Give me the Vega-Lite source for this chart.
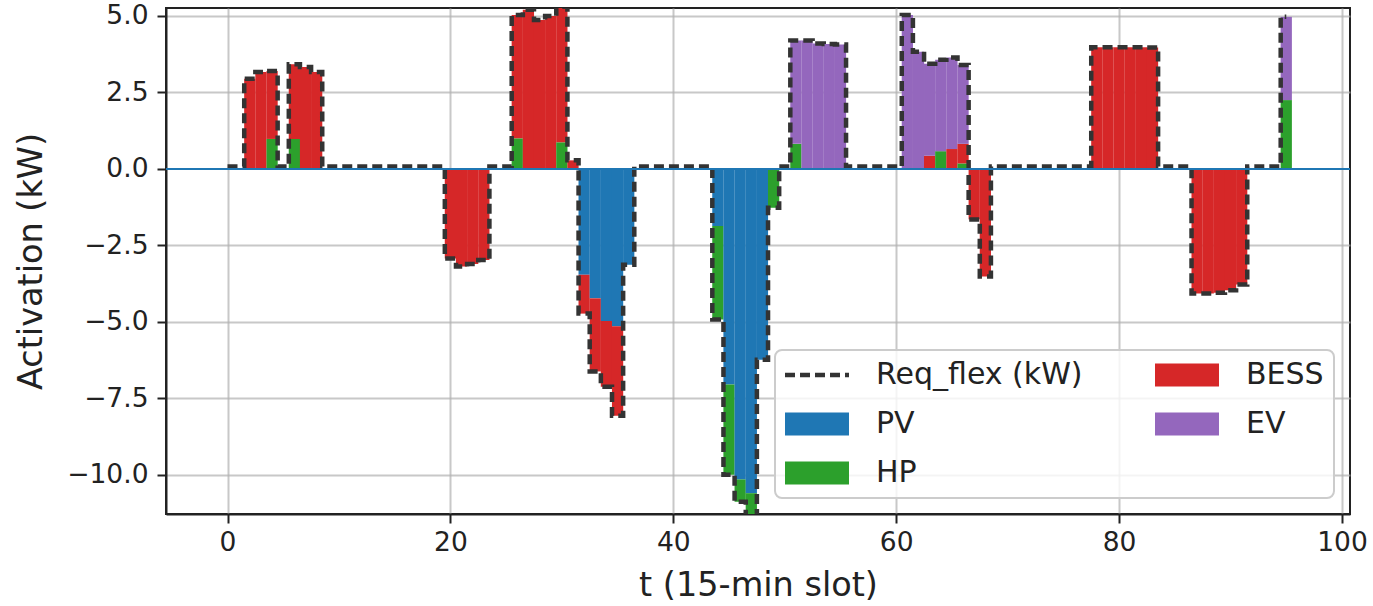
{
  "$schema": "https://vega.github.io/schema/vega-lite/v6.json",
  "width": 1184,
  "height": 506,
  "autosize": {"type": "none"},
  "padding": {"left": 166, "top": 8, "right": 23, "bottom": 92},
  "background": "white",
  "config": {
    "font": "DejaVu Sans",
    "view": {"stroke": "#222222", "strokeWidth": 2},
    "axis": {
      "labelFont": "DejaVu Sans",
      "labelFontSize": 26.5,
      "labelColor": "#222222",
      "titleFont": "DejaVu Sans",
      "titleFontSize": 33.5,
      "titleColor": "#222222",
      "titleFontWeight": "normal",
      "tickColor": "#222222",
      "tickWidth": 2,
      "tickSize": 9,
      "domainColor": "#222222",
      "domainWidth": 2,
      "gridColor": "#b0b0b0",
      "gridOpacity": 0.7,
      "gridWidth": 2,
      "labelFlush": false,
      "labelOverlap": false,
      "labelBound": false,
      "zindex": 1
    },
    "legend": {"symbolStrokeWidth": 0}
  },
  "datasets": {
    "bars": [
      {"t": 2, "src": "BESS", "v": 2.95},
      {"t": 3, "src": "BESS", "v": 3.17},
      {"t": 4, "src": "HP", "v": 0.98},
      {"t": 4, "src": "BESS", "v": 2.22},
      {"t": 6, "src": "HP", "v": 0.98},
      {"t": 6, "src": "BESS", "v": 2.44},
      {"t": 7, "src": "BESS", "v": 3.33},
      {"t": 8, "src": "BESS", "v": 3.17},
      {"t": 20, "src": "BESS", "v": -2.93},
      {"t": 21, "src": "BESS", "v": -3.19},
      {"t": 22, "src": "BESS", "v": -3.11},
      {"t": 23, "src": "BESS", "v": -2.98},
      {"t": 26, "src": "HP", "v": 1.0},
      {"t": 26, "src": "BESS", "v": 4.03},
      {"t": 27, "src": "BESS", "v": 5.2},
      {"t": 28, "src": "BESS", "v": 4.87},
      {"t": 29, "src": "BESS", "v": 5.0},
      {"t": 30, "src": "HP", "v": 0.87},
      {"t": 30, "src": "BESS", "v": 4.43},
      {"t": 31, "src": "BESS", "v": 0.28},
      {"t": 32, "src": "PV", "v": -3.46},
      {"t": 32, "src": "BESS", "v": -1.27},
      {"t": 33, "src": "PV", "v": -4.23},
      {"t": 33, "src": "BESS", "v": -2.39},
      {"t": 34, "src": "PV", "v": -4.97},
      {"t": 34, "src": "BESS", "v": -2.15},
      {"t": 35, "src": "PV", "v": -5.14},
      {"t": 35, "src": "BESS", "v": -2.93},
      {"t": 36, "src": "PV", "v": -3.13},
      {"t": 44, "src": "PV", "v": -1.87},
      {"t": 44, "src": "HP", "v": -3.05},
      {"t": 45, "src": "PV", "v": -7.05},
      {"t": 45, "src": "HP", "v": -2.95},
      {"t": 46, "src": "PV", "v": -10.15},
      {"t": 46, "src": "HP", "v": -0.73},
      {"t": 47, "src": "PV", "v": -10.6},
      {"t": 47, "src": "HP", "v": -1.0},
      {"t": 48, "src": "PV", "v": -6.24},
      {"t": 49, "src": "HP", "v": -1.27},
      {"t": 51, "src": "HP", "v": 0.82},
      {"t": 51, "src": "EV", "v": 3.38},
      {"t": 52, "src": "EV", "v": 4.2},
      {"t": 53, "src": "EV", "v": 4.1},
      {"t": 54, "src": "EV", "v": 4.08},
      {"t": 55, "src": "EV", "v": 4.07},
      {"t": 61, "src": "EV", "v": 5.03},
      {"t": 62, "src": "EV", "v": 3.83},
      {"t": 63, "src": "BESS", "v": 0.43},
      {"t": 63, "src": "EV", "v": 3.01},
      {"t": 64, "src": "HP", "v": 0.58},
      {"t": 64, "src": "EV", "v": 2.99},
      {"t": 65, "src": "BESS", "v": 0.65},
      {"t": 65, "src": "EV", "v": 2.99},
      {"t": 66, "src": "HP", "v": 0.18},
      {"t": 66, "src": "BESS", "v": 0.64},
      {"t": 66, "src": "EV", "v": 2.58},
      {"t": 67, "src": "BESS", "v": -1.65},
      {"t": 68, "src": "BESS", "v": -3.52},
      {"t": 78, "src": "BESS", "v": 3.98},
      {"t": 79, "src": "BESS", "v": 3.98},
      {"t": 80, "src": "BESS", "v": 3.98},
      {"t": 81, "src": "BESS", "v": 3.98},
      {"t": 82, "src": "BESS", "v": 3.98},
      {"t": 83, "src": "BESS", "v": 3.97},
      {"t": 87, "src": "BESS", "v": -4.07},
      {"t": 88, "src": "BESS", "v": -4.07},
      {"t": 89, "src": "BESS", "v": -4.05},
      {"t": 90, "src": "BESS", "v": -3.97},
      {"t": 91, "src": "BESS", "v": -3.78},
      {"t": 95, "src": "HP", "v": 2.25},
      {"t": 95, "src": "EV", "v": 2.72}
    ],
    "req": [
      {"t": 0, "req": 0.08}, {"t": 1, "req": 0.08}, {"t": 2, "req": 2.95}, {"t": 3, "req": 3.17},
      {"t": 4, "req": 3.2}, {"t": 5, "req": 0.08}, {"t": 6, "req": 3.42}, {"t": 7, "req": 3.33},
      {"t": 8, "req": 3.17}, {"t": 9, "req": 0.08}, {"t": 10, "req": 0.08}, {"t": 11, "req": 0.08},
      {"t": 12, "req": 0.08}, {"t": 13, "req": 0.08}, {"t": 14, "req": 0.08}, {"t": 15, "req": 0.08},
      {"t": 16, "req": 0.08}, {"t": 17, "req": 0.08}, {"t": 18, "req": 0.08}, {"t": 19, "req": 0.08},
      {"t": 20, "req": -2.93}, {"t": 21, "req": -3.19}, {"t": 22, "req": -3.11}, {"t": 23, "req": -2.98},
      {"t": 24, "req": 0.08}, {"t": 25, "req": 0.08}, {"t": 26, "req": 5.03}, {"t": 27, "req": 5.2},
      {"t": 28, "req": 4.87}, {"t": 29, "req": 5.0}, {"t": 30, "req": 5.3}, {"t": 31, "req": 0.28},
      {"t": 32, "req": -4.73}, {"t": 33, "req": -6.62}, {"t": 34, "req": -7.12}, {"t": 35, "req": -8.07},
      {"t": 36, "req": -3.13}, {"t": 37, "req": 0.08}, {"t": 38, "req": 0.08}, {"t": 39, "req": 0.08},
      {"t": 40, "req": 0.08}, {"t": 41, "req": 0.08}, {"t": 42, "req": 0.08}, {"t": 43, "req": 0.08},
      {"t": 44, "req": -4.92}, {"t": 45, "req": -10.0}, {"t": 46, "req": -10.88}, {"t": 47, "req": -11.6},
      {"t": 48, "req": -6.24}, {"t": 49, "req": -1.27}, {"t": 50, "req": 0.08}, {"t": 51, "req": 4.2},
      {"t": 52, "req": 4.2}, {"t": 53, "req": 4.1}, {"t": 54, "req": 4.08}, {"t": 55, "req": 4.07},
      {"t": 56, "req": 0.08}, {"t": 57, "req": 0.08}, {"t": 58, "req": 0.08}, {"t": 59, "req": 0.08},
      {"t": 60, "req": 0.08}, {"t": 61, "req": 5.03}, {"t": 62, "req": 3.83}, {"t": 63, "req": 3.44},
      {"t": 64, "req": 3.57}, {"t": 65, "req": 3.64}, {"t": 66, "req": 3.4}, {"t": 67, "req": -1.65},
      {"t": 68, "req": -3.52}, {"t": 69, "req": 0.08}, {"t": 70, "req": 0.08}, {"t": 71, "req": 0.08},
      {"t": 72, "req": 0.08}, {"t": 73, "req": 0.08}, {"t": 74, "req": 0.08}, {"t": 75, "req": 0.08},
      {"t": 76, "req": 0.08}, {"t": 77, "req": 0.08}, {"t": 78, "req": 3.98}, {"t": 79, "req": 3.98},
      {"t": 80, "req": 3.98}, {"t": 81, "req": 3.98}, {"t": 82, "req": 3.98}, {"t": 83, "req": 3.97},
      {"t": 84, "req": 0.08}, {"t": 85, "req": 0.08}, {"t": 86, "req": 0.08}, {"t": 87, "req": -4.07},
      {"t": 88, "req": -4.07}, {"t": 89, "req": -4.05}, {"t": 90, "req": -3.97}, {"t": 91, "req": -3.78},
      {"t": 92, "req": 0.08}, {"t": 93, "req": 0.08}, {"t": 94, "req": 0.08}, {"t": 95, "req": 4.97}
    ]
  },
  "layer": [
    {
      "data": {"name": "bars"},
      "transform": [
        {"calculate": "indexof(['PV','HP','BESS','EV'], datum.src)", "as": "k"}
      ],
      "mark": {"type": "bar", "width": 11.24, "clip": true},
      "encoding": {
        "x": {
          "field": "t",
          "type": "quantitative",
          "title": "t (15-min slot)",
          "scale": {"domain": [-5.07, 100.27], "nice": false, "zero": false},
          "axis": {
            "values": [0, 20, 40, 60, 80, 100],
            "format": "d",
            "labelPadding": 6,
            "titlePadding": 14,
            "title": "t (15-min slot)"
          }
        },
        "y": {
          "field": "v",
          "type": "quantitative",
          "stack": "zero",
          "title": "Activation (kW)",
          "scale": {"domain": [-11.28, 5.26], "nice": false, "zero": false},
          "axis": {
            "values": [-10, -7.5, -5, -2.5, 0, 2.5, 5],
            "format": ".1f",
            "labelPadding": 9,
            "titlePadding": 18,
            "title": "Activation (kW)",
            "gridColor": {"condition": {"test": "datum.value === 0", "value": "transparent"}, "value": "#b0b0b0"}
          }
        },
        "order": {"field": "k", "type": "quantitative"},
        "color": {
          "field": "src",
          "type": "nominal",
          "scale": {
            "domain": ["Req_flex (kW)", "PV", "HP", "BESS", "EV"],
            "range": ["#333333", "#1f77b4", "#2ca02c", "#d62728", "#9467bd"]
          },
          "legend": {
            "title": null,
            "orient": "bottom-right",
            "offset": 16,
            "columns": 2,
            "columnPadding": 72,
            "rowPadding": 19,
            "padding": 10,
            "labelFont": "DejaVu Sans",
            "labelFontSize": 30,
            "labelColor": "#222222",
            "labelLimit": 400,
            "symbolSize": 900,
            "symbolOffset": 17,
            "labelOffset": 44,
            "strokeColor": "#cccccc",
            "fillColor": "rgba(255,255,255,0.8)",
            "cornerRadius": 7,
            "encode": {
              "legend": {"update": {"strokeWidth": {"value": 2}}},
              "symbols": {
                "update": {
                  "shape": {"signal": "datum.value === 'Req_flex (kW)' ? 'M-2.133,-0.15H-1.467V0.15H-2.133Z M-1.133,-0.15H-0.467V0.15H-1.133Z M-0.133,-0.15H0.533V0.15H-0.133Z M0.867,-0.15H1.533V0.15H0.867Z M1.867,-0.15H2.133V0.15H1.867Z' : 'M-2.133,-0.767H2.133V0.767H-2.133Z'"},
                  "fill": {"scale": "color", "field": "value"},
                  "fillOpacity": {"value": 1},
                  "stroke": {"value": "transparent"},
                  "strokeWidth": {"value": 0},
                  "opacity": {"value": 1}
                }
              }
            }
          }
        }
      }
    },
    {
      "data": {"name": "req"},
      "mark": {"type": "line", "interpolate": "step", "strokeDash": [10, 5], "strokeWidth": 4.5, "clip": true},
      "encoding": {
        "x": {
          "field": "t",
          "type": "quantitative",
          "title": "t (15-min slot)",
          "axis": {
            "values": [0, 20, 40, 60, 80, 100],
            "format": "d",
            "labelPadding": 6,
            "titlePadding": 14,
            "title": "t (15-min slot)"
          }
        },
        "y": {
          "field": "req",
          "type": "quantitative",
          "title": "Activation (kW)",
          "axis": {
            "values": [-10, -7.5, -5, -2.5, 0, 2.5, 5],
            "format": ".1f",
            "labelPadding": 9,
            "titlePadding": 18,
            "title": "Activation (kW)",
            "gridColor": {"condition": {"test": "datum.value === 0", "value": "transparent"}, "value": "#b0b0b0"}
          }
        },
        "color": {"datum": "Req_flex (kW)"}
      }
    },
    {
      "data": {"values": [{}]},
      "mark": {"type": "rule", "color": "#1f77b4", "strokeWidth": 2},
      "encoding": {
        "y": {
          "datum": 0,
          "type": "quantitative",
          "title": "Activation (kW)",
          "axis": {
            "values": [-10, -7.5, -5, -2.5, 0, 2.5, 5],
            "format": ".1f",
            "labelPadding": 9,
            "titlePadding": 18,
            "title": "Activation (kW)",
            "gridColor": {"condition": {"test": "datum.value === 0", "value": "transparent"}, "value": "#b0b0b0"}
          }
        }
      }
    }
  ]
}
